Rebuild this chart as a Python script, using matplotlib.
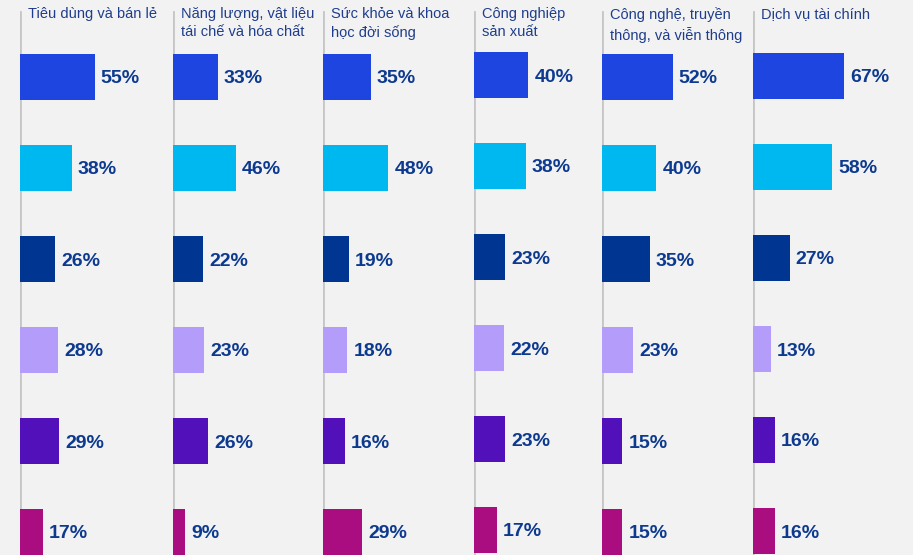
import matplotlib
matplotlib.use("Agg")
import matplotlib.pyplot as plt

plt.rcParams['font.family'] = ['Liberation Sans', 'DejaVu Sans']

categories = ["Tiêu dùng và bán lẻ",
              "Năng lượng, vật liệu\ntái chế và hóa chất",
              "Sức khỏe và khoa\nhọc đời sống",
              "Công nghiệp\nsản xuất",
              "Công nghệ, truyền\nthông, và viễn thông",
              "Dịch vụ tài chính"]

# six series (rows) per category panel
series1 = [55, 33, 35, 40, 52, 67]
series2 = [38, 46, 48, 38, 40, 58]
series3 = [26, 22, 19, 23, 35, 27]
series4 = [28, 23, 18, 22, 23, 13]
series5 = [29, 26, 16, 23, 15, 16]
series6 = [17, 9, 29, 17, 15, 16]
series = [series1, series2, series3, series4, series5, series6]
colors = ['#1f45e0', '#00b8f0', '#003591', '#b49cfa', '#5210bb', '#aa0d80']

W, H = 913, 555
fig = plt.figure(figsize=(W / 100, H / 100), dpi=100)
fig.patch.set_facecolor('#f2f2f2')

panel_x = [20, 173, 323, 474, 602, 753]
panel_dy = [0, 0, 0, -2, 0, -1]
px_per_pct = 1.36
first_center = 77
step = 91
bar_px = 46

label_color = '#0d3a8f'
title_color = '#1f3d8c'

for p, cat in enumerate(categories):
    x0 = panel_x[p]
    x1 = panel_x[p + 1] if p + 1 < len(panel_x) else W
    wpx = x1 - x0
    ax = fig.add_axes([x0 / W, 0, wpx / W, 1])
    ax.set_facecolor('none')
    ax.set_xlim(0, wpx / px_per_pct)
    fc = first_center + panel_dy[p]
    ax.set_ylim((H - fc) / step, (0 - fc) / step)
    vals = [s[p] for s in series]
    ypos = list(range(len(vals)))
    ax.barh(ypos, vals, height=bar_px / step, color=colors, left=0, zorder=3)
    for y, v in zip(ypos, vals):
        ax.annotate(f"{v}%", xy=(v, y), xytext=(6, -2), textcoords='offset pixels',
                    ha='left', va='center', fontsize=14, fontweight='bold',
                    color=label_color, zorder=4)
    ax.axvline(0, ymin=0, ymax=1 - 12 / H, color='#c6c6c6', lw=2, zorder=1)
    ax.text(8 / wpx, 1 - 7 / H, cat, transform=ax.transAxes, ha='left', va='top',
            fontsize=10.5, color=title_color, linespacing=1.38)
    ax.axis('off')

fig.savefig('out.png', dpi=100, facecolor=fig.get_facecolor())
